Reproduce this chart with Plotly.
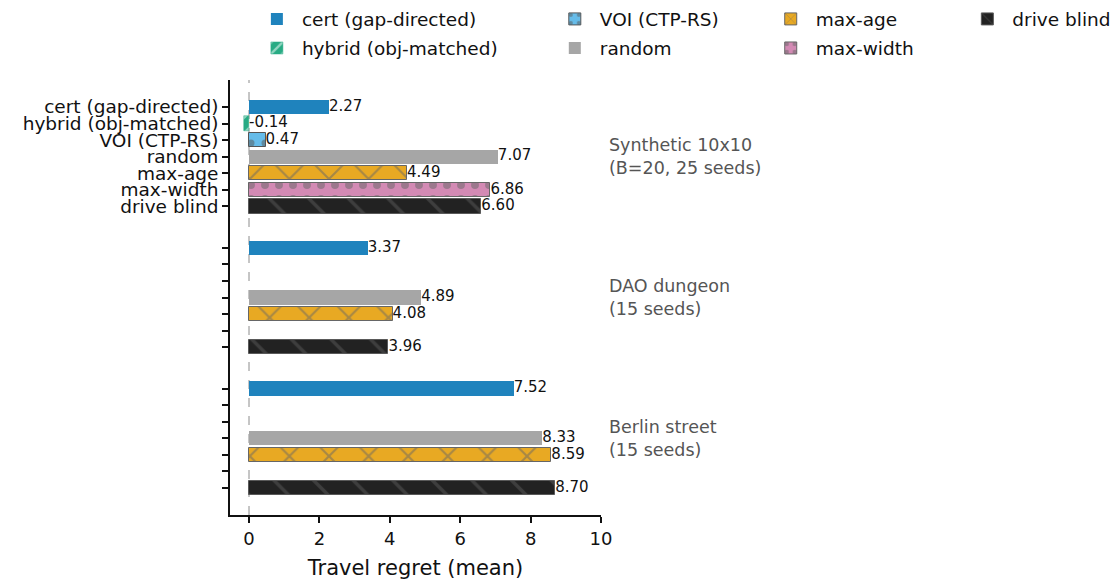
import numpy as np
import plotly.graph_objects as go

# Benchmarks (groups) and the planners compared in each
groups = ["Synthetic 10x10<br>(B=20, 25 seeds)", "DAO dungeon<br>(15 seeds)", "Berlin street<br>(15 seeds)"]
methods = ["cert (gap-directed)", "hybrid (obj-matched)", "VOI (CTP-RS)", "random",
           "max-age", "max-width", "drive blind"]

# Mean travel regret per method (None = not run on that benchmark)
synthetic = [2.27, -0.14, 0.47, 7.07, 4.49, 6.86, 6.60]
dao = [3.37, None, None, 4.89, 4.08, None, 3.96]
berlin = [7.52, None, None, 8.33, 8.59, None, 8.70]
values = [synthetic, dao, berlin]

x_ticks = [0, 2, 4, 6, 8, 10]

# Styling per method: fill, pattern shape, pattern colour, pattern size, edge
styles = {
    "cert (gap-directed)":  dict(color="#1f83bd", shape="",   fg="#1f83bd", size=10, solid=0.3,  edge="#1f83bd", ew=0),
    "hybrid (obj-matched)": dict(color="#28ab84", shape="/",  fg="#ffffff", size=12, solid=0.3,  edge="#28ab84", ew=0.5),
    "VOI (CTP-RS)":         dict(color="#66bce9", shape=".",  fg="#555555", size=14, solid=0.2,  edge="#555555", ew=1),
    "random":               dict(color="#a6a6a6", shape="",   fg="#a6a6a6", size=10, solid=0.3,  edge="#a6a6a6", ew=0),
    "max-age":              dict(color="#e8a923", shape="x",  fg="#666666", size=28, solid=0.15, edge="#666666", ew=1),
    "max-width":            dict(color="#d38ab4", shape=".",  fg="#666666", size=14, solid=0.25, edge="#666666", ew=1),
    "drive blind":          dict(color="#222222", shape="\\", fg="#595959", size=28, solid=0.12, edge="#595959", ew=1),
}

# Legend columns (each column is its own legend box)
legend_of = {
    "cert (gap-directed)": "legend", "hybrid (obj-matched)": "legend",
    "VOI (CTP-RS)": "legend2", "random": "legend2",
    "max-age": "legend3", "max-width": "legend3",
    "drive blind": "legend4",
}

n_rows = len(methods)
group_step = n_rows + 1.5
row_pos = np.array([[g * group_step + i for i in range(n_rows)] for g in range(len(groups))])

fig = go.Figure()

for m_idx, m in enumerate(methods):
    st = styles[m]
    xs, ys = [], []
    for g in range(len(groups)):
        v = values[g][m_idx]
        if v is not None:
            xs.append(v)
            ys.append(row_pos[g, m_idx])
    fig.add_trace(go.Bar(
        x=xs, y=ys, orientation="h", name=m, width=0.86,
        legend=legend_of[m], legendgroup=m,
        marker=dict(
            color=st["color"],
            line=dict(color=st["edge"], width=st["ew"]),
            pattern=dict(shape=st["shape"], fgcolor=st["fg"], bgcolor=st["color"],
                         size=st["size"], solidity=st["solid"], fillmode="overlay"),
        ),
        hoverinfo="skip",
    ))

# Value labels at the bar ends
lx, ly, lt = [], [], []
for g in range(len(groups)):
    for m_idx in range(n_rows):
        v = values[g][m_idx]
        if v is not None:
            lx.append(max(v, 0))
            ly.append(row_pos[g, m_idx])
            lt.append(f"{v:.2f}")
fig.add_trace(go.Scatter(
    x=lx, y=ly, text=lt, mode="text", textposition="middle right",
    textfont=dict(size=15, color="#111111"), showlegend=False, hoverinfo="skip",
))

# Benchmark names on the right
for g, name in enumerate(groups):
    fig.add_annotation(
        x=1.015, xref="paper", y=row_pos[g].mean(), yref="y",
        text=name, showarrow=False, xanchor="left", yanchor="middle", align="left",
        font=dict(size=17.5, color="#555555"),
    )

# Dashed reference line at zero regret
fig.add_shape(type="line", x0=0, x1=0, xref="x", y0=0, y1=1, yref="paper",
              line=dict(color="#a0a0a0", width=1.2, dash="dash"), layer="below")

tickvals = row_pos.flatten().tolist()
ticktext = methods + [""] * (len(tickvals) - n_rows)

legend_common = dict(orientation="v", yanchor="top", y=1.183, xanchor="left",
                     font=dict(size=18.5, color="#111111"), bgcolor="rgba(0,0,0,0)",
                     tracegroupgap=2, itemwidth=40)

fig.update_layout(
    width=1118, height=580,
    margin=dict(l=230, r=517, t=80, b=65, autoexpand=False),
    paper_bgcolor="white", plot_bgcolor="white",
    font=dict(family="DejaVu Sans", color="#111111"),
    barmode="overlay",
    bargap=0,
    legend=dict(legend_common, x=0.059),
    legend2=dict(legend_common, x=0.862),
    legend3=dict(legend_common, x=1.444),
    legend4=dict(legend_common, x=1.974),
    xaxis=dict(
        range=[-0.54, 10.0], tickvals=x_ticks, ticktext=[str(t) for t in x_ticks],
        showgrid=False, zeroline=False, showline=True, linecolor="#111111", linewidth=1.8,
        ticks="outside", ticklen=6, tickwidth=1.6, tickcolor="#111111",
        tickfont=dict(size=18), title=dict(text="Travel regret (mean)", font=dict(size=21), standoff=14),
    ),
    yaxis=dict(
        range=[row_pos.max() + 1.63, -1.63], tickvals=tickvals, ticktext=ticktext,
        showgrid=False, zeroline=False, showline=True, linecolor="#111111", linewidth=1.8,
        ticks="outside", ticklen=6, tickwidth=1.6, tickcolor="#111111",
        tickfont=dict(size=18.5),
    ),
)

fig.write_html("out.html")
